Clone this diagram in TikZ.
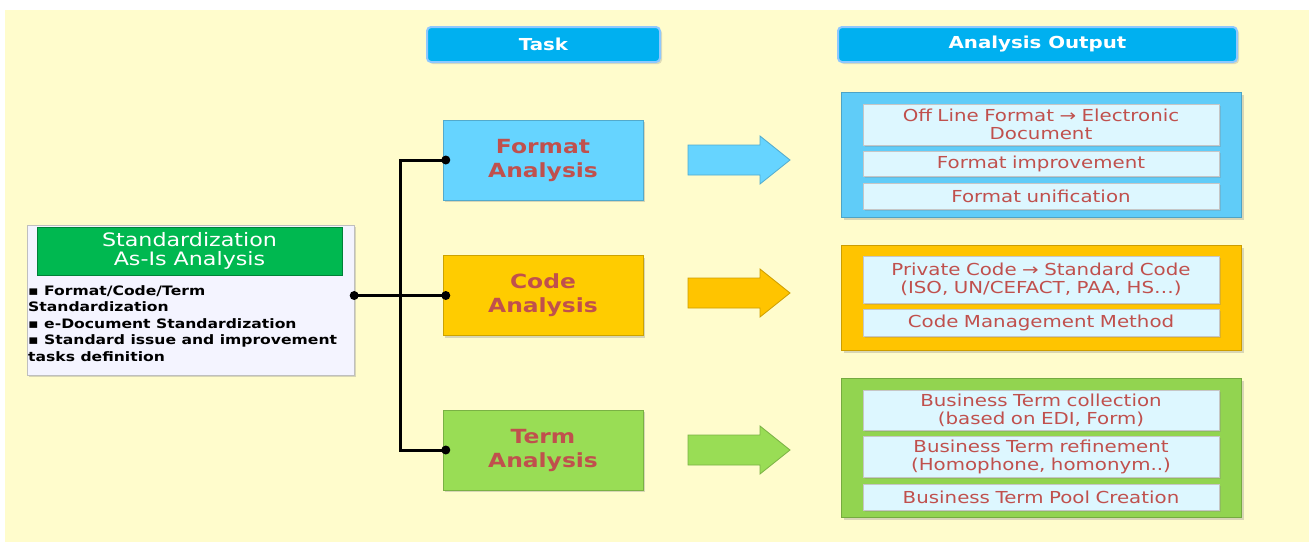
\documentclass[tikz,border=0pt]{standalone}
\usepackage{fontspec}
\setmainfont{DejaVu Sans}[FakeStretch=1.2]
\usepackage{tikz}
\usetikzlibrary{positioning,shadows}

\definecolor{bgyellow}{RGB}{255,252,204}
\definecolor{hdrblue}{RGB}{0,176,240}
\definecolor{hdredge}{RGB}{142,200,255}
\definecolor{fmtblue}{RGB}{102,212,255}
\definecolor{outblue}{RGB}{96,204,248}
\definecolor{codeyel}{RGB}{255,204,0}
\definecolor{outyel}{RGB}{255,196,0}
\definecolor{termgrn}{RGB}{153,221,85}
\definecolor{outgrn}{RGB}{146,212,80}
\definecolor{itemfill}{RGB}{221,247,255}
\definecolor{redtxt}{RGB}{192,80,77}
\definecolor{stdgreen}{RGB}{0,184,80}
\definecolor{lavender}{RGB}{244,244,255}

\begin{document}
\begin{tikzpicture}[%
        x=1pt,y=-1pt,
        node distance=6pt,
        header/.style={%
          rectangle, rounded corners=4pt,
          fill=hdrblue, draw=hdredge, line width=2pt,
          minimum height=35pt, text=white,
          font=\fontsize{16.5}{20}\selectfont\bfseries,
          drop shadow={opacity=0.25,shadow xshift=2pt,shadow yshift=-2pt}
        },
        task/.style={%
          rectangle, draw=#1!80!black, fill=#1,
          minimum width=200pt, minimum height=80pt,
          text=redtxt, align=center,
          font=\fontsize{19.5}{24}\selectfont\bfseries,
          drop shadow={opacity=0.3,shadow xshift=2pt,shadow yshift=-2pt}
        },
        outbox/.style={%
          rectangle, draw=#1!80!black, fill=#1, line width=1pt,
          minimum width=400pt,
          drop shadow={opacity=0.3,shadow xshift=3pt,shadow yshift=-3pt}
        },
        item/.style={%
          rectangle, draw=gray!45, fill=itemfill,
          minimum width=356pt, text width=350pt, inner sep=1pt,
          align=center, text=redtxt,
          font=\fontsize{16.5}{18}\selectfont,
          drop shadow={opacity=0.25,shadow xshift=1.5pt,shadow yshift=-1.5pt}
        },
        bigarrow/.style={fill=#1, draw=#1!80!black, line width=0.8pt},
        conn/.style={line width=3pt}
      ]
      \useasboundingbox (0,0) rectangle (1309,542);
      \fill[bgyellow] (5,10) rectangle (1309,542);

      \node[header, minimum width=233pt] (taskhdr) at (543.5,44.5) {Task};
      \node[header, minimum width=399pt] (outhdr) at (1037.5,44.5) {Analysis Output};

      % left block
      \node[rectangle, draw=gray!50, fill=lavender, minimum width=327pt, minimum height=150pt,
        drop shadow={opacity=0.3,shadow xshift=2pt,shadow yshift=-2pt}] (leftbox) at (190.5,300) {};
      \node[rectangle, fill=stdgreen, draw=stdgreen!70!black, minimum width=305pt, minimum height=48pt,
        align=center, text=white, font=\fontsize{18.5}{19.5}\selectfont] (stdhead) at (189.5,251)
        {Standardization\\As-Is Analysis};
      \node[anchor=north west, inner sep=0pt, align=left,
        font=\fontsize{13}{16.5}\selectfont\bfseries] (stdtext) at (28,285)
        {▪ Format/Code/Term\\Standardization\\▪ e-Document Standardization\\▪ Standard issue and improvement\\tasks definition};

      % tasks
      \node[task=fmtblue] (format) at (543,160) {Format\\Analysis};
      \node[task=codeyel] (code) at (543,295.5) {Code\\Analysis};
      \node[task=termgrn] (term) at (543,450) {Term\\Analysis};

      \coordinate (bus) at (400,295.5);
      \draw[conn] (leftbox.east |- code.west) -- (code.west);
      \draw[conn] (format.west) -| (bus) |- (term.west);
      \foreach \n in {format,code,term}
        \fill ([xshift=3pt]\n.west) circle[radius=4.5pt];
      \fill (leftbox.east |- code.west) circle[radius=4.5pt];

      \foreach \y/\c in {160/fmtblue,293/outyel,450/termgrn}
        \filldraw[bigarrow=\c] (688,\y-15) -- (760,\y-15) -- (760,\y-24) -- (790,\y)
          -- (760,\y+24) -- (760,\y+15) -- (688,\y+15) -- cycle;

      % outputs
      \node[outbox=outblue, minimum height=125pt] (fmtout) at (1041,154.5) {};
      \node[item, minimum height=41pt, anchor=north] (fmtA) at (1041,104)
        {Off Line Format → Electronic\\Document};
      \node[item, minimum height=25pt, below=of fmtA] (fmtB) {Format improvement};
      \node[item, minimum height=26pt, below=of fmtB] (fmtC) {Format unification};

      \node[outbox=outyel, minimum height=105pt] (codeout) at (1041,297.5) {};
      \node[item, minimum height=47pt, anchor=north] (codeA) at (1041,256)
        {Private Code → Standard Code\\(ISO, UN/CEFACT, PAA, HS…)};
      \node[item, minimum height=27pt, below=of codeA] (codeB) {Code Management Method};

      \node[outbox=outgrn, minimum height=139pt] (termout) at (1041,447.5) {};
      \node[item, minimum height=40pt, anchor=north] (termA) at (1041,390)
        {Business Term collection\\(based on EDI, Form)};
      \node[item, minimum height=41pt, below=of termA] (termB)
        {Business Term refinement\\(Homophone, homonym..)};
      \node[item, minimum height=26pt, below=of termB] (termC) {Business Term Pool Creation};
  \end{tikzpicture}
\end{document}
